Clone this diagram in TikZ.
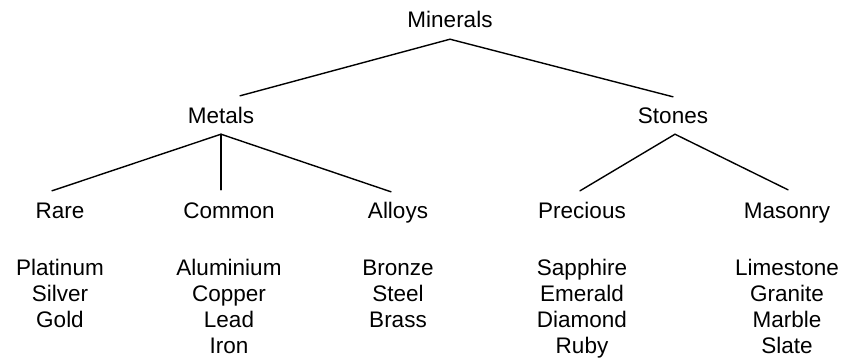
\documentclass[tikz,border=0pt]{standalone}
\usepackage{fontspec}
\setmainfont{Liberation Sans}
\begin{document}
\begin{tikzpicture}[x=1pt,y=-1pt,
  every node/.style={font=\fontsize{22.5}{26}\selectfont},
  label/.style={anchor=base, inner xsep=0pt, inner ysep=0pt, text height=16pt, text depth=0pt},
  items/.style={anchor=base, align=center, inner sep=0pt},
  branch/.style={line width=1.4pt, line cap=round}]
\useasboundingbox (0,0) rectangle (845,360);
% tree labels
\node[label] (minerals) at (450,27) {Minerals};
\node[label] (metals)   at (221,123) {Metals};
\node[label] (stones)   at (673,123) {Stones};
\node[label] (rare)     at (60,218) {Rare};
\node[label] (common)   at (229,218) {Common};
\node[label] (alloys)   at (398,218) {Alloys};
\node[label] (precious) at (582,218) {Precious};
\node[label] (masonry)  at (787,218) {Masonry};
% member lists (placed by the baseline of their last line)
\node[items] (rarelist)     at (60,327)  {Platinum\\Silver\\Gold};
\node[items] (commonlist)   at (229,353) {Aluminium\\Copper\\Lead\\Iron};
\node[items] (alloylist)    at (398,327) {Bronze\\Steel\\Brass};
\node[items] (preciouslist) at (582,353) {Sapphire\\Emerald\\Diamond\\Ruby};
\node[items] (masonrylist)  at (787,353) {Limestone\\Granite\\Marble\\Slate};
% branches
\draw[branch] ([yshift=-12pt]minerals.south) -- ([xshift=19pt,yshift=11pt]metals.north);
\draw[branch] ([yshift=-12pt]minerals.south) -- ([yshift=10pt]stones.north);
\draw[branch] ([yshift=-11pt]metals.south) -- ([xshift=-8pt,yshift=11pt]rare.north);
\draw[branch] ([yshift=-11pt]metals.south) -- ([xshift=-8pt,yshift=12pt]common.north);
\draw[branch] ([yshift=-11pt]metals.south) -- ([xshift=-7pt,yshift=10pt]alloys.north);
\draw[branch] ([xshift=2pt,yshift=-11pt]stones.south) -- ([xshift=-2pt,yshift=11pt]precious.north);
\draw[branch] ([xshift=2pt,yshift=-11pt]stones.south) -- ([xshift=1pt,yshift=12pt]masonry.north);
\end{tikzpicture}
\end{document}
